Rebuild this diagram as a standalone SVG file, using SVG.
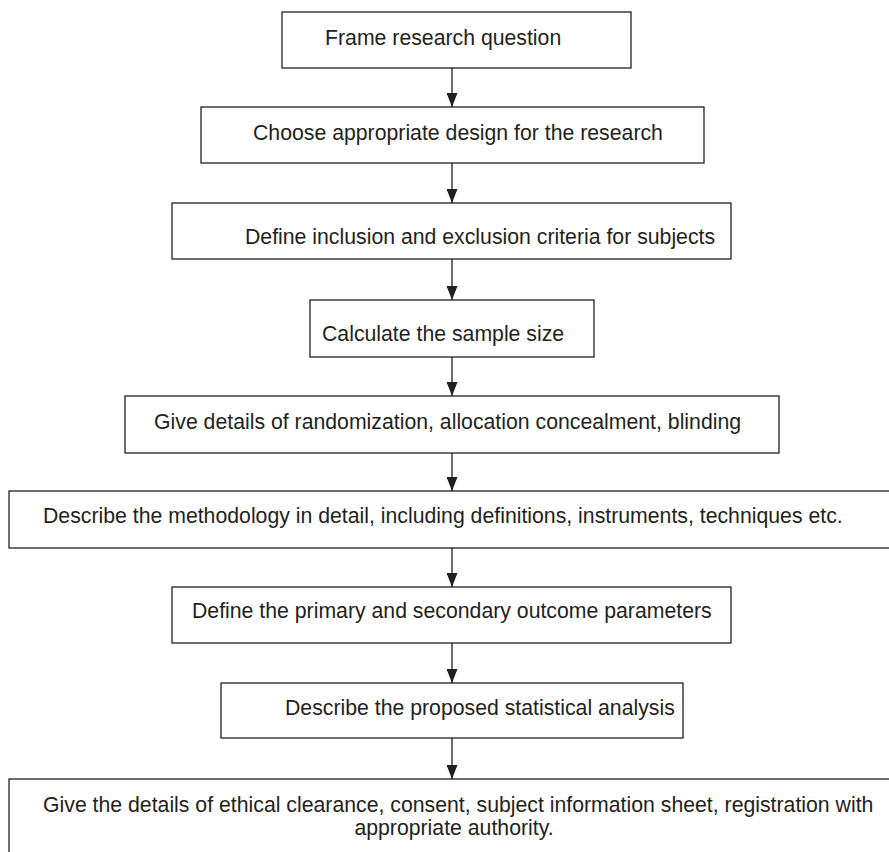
<svg xmlns="http://www.w3.org/2000/svg" width="889" height="852" viewBox="0 0 889 852">
<style>
.box{fill:#fff;stroke:#231f20;stroke-width:1.3}
.lbl{font-family:"Liberation Sans",Arial,sans-serif;font-size:21.25px;fill:#231f20}
.c{text-anchor:middle}
.conn{stroke:#231f20;stroke-width:1.3;fill:none}
</style>
<defs>
<marker id="ah" viewBox="0 0 14 11" refX="14" refY="5.5" markerWidth="14" markerHeight="11" markerUnits="userSpaceOnUse" orient="auto">
<path d="M0,0 L14,5.5 L0,11 z" fill="#231f20"/>
</marker>
</defs>
<rect x="0" y="0" width="889" height="852" fill="#fff"/>
<g id="connectors">
<line class="conn" x1="452" y1="68" x2="452" y2="107" marker-end="url(#ah)"/>
<line class="conn" x1="452" y1="163" x2="452" y2="203" marker-end="url(#ah)"/>
<line class="conn" x1="452" y1="259" x2="452" y2="300" marker-end="url(#ah)"/>
<line class="conn" x1="452" y1="357" x2="452" y2="396" marker-end="url(#ah)"/>
<line class="conn" x1="452" y1="453" x2="452" y2="491" marker-end="url(#ah)"/>
<line class="conn" x1="452" y1="548" x2="452" y2="587" marker-end="url(#ah)"/>
<line class="conn" x1="452" y1="643" x2="452" y2="683" marker-end="url(#ah)"/>
<line class="conn" x1="452" y1="738" x2="452" y2="779" marker-end="url(#ah)"/>
</g>
<g id="n1"><rect class="box" x="282" y="12" width="349" height="56"/><text class="lbl" x="325" y="45">Frame research question</text></g>
<g id="n2"><rect class="box" x="201" y="107" width="503" height="56"/><text class="lbl" x="253" y="140">Choose appropriate design for the research</text></g>
<g id="n3"><rect class="box" x="172" y="203" width="559" height="56"/><text class="lbl" x="245" y="244">Define inclusion and exclusion criteria for subjects</text></g>
<g id="n4"><rect class="box" x="310" y="300" width="284" height="57"/><text class="lbl" x="322" y="341">Calculate the sample size</text></g>
<g id="n5"><rect class="box" x="125" y="396" width="654" height="57"/><text class="lbl" x="154" y="429">Give details of randomization, allocation concealment, blinding</text></g>
<g id="n6"><rect class="box" x="9" y="491" width="900" height="57"/><text class="lbl" x="43" y="523">Describe the methodology in detail, including definitions, instruments, techniques etc.</text></g>
<g id="n7"><rect class="box" x="172" y="587" width="559" height="56"/><text class="lbl" x="192" y="618">Define the primary and secondary outcome parameters</text></g>
<g id="n8"><rect class="box" x="221" y="683" width="462" height="55"/><text class="lbl" x="285" y="715">Describe the proposed statistical analysis</text></g>
<g id="n9"><rect class="box" x="9" y="779" width="900" height="100"/><text class="lbl" x="43" y="812">Give the details of ethical clearance, consent, subject information sheet, registration with</text><text class="lbl c" x="454" y="835">appropriate authority.</text></g>
</svg>
